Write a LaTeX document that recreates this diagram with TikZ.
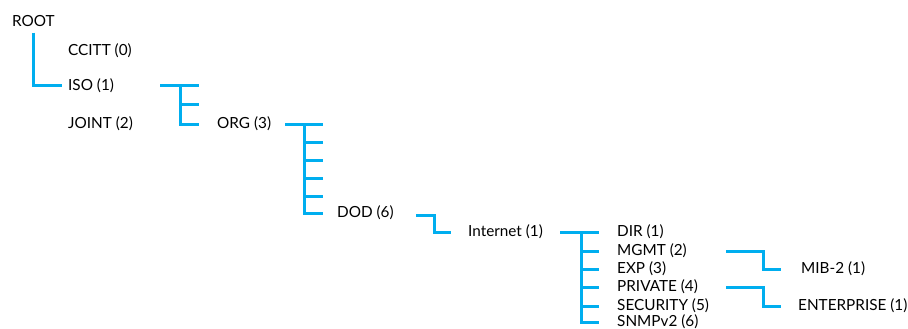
\documentclass[tikz,border=0pt]{standalone}
\usepackage{fontspec}
\setmainfont{Lato}
\definecolor{oidblue}{RGB}{0,174,239}
\tikzset{
  link/.style={draw=oidblue, line width=3pt},
  oid/.style={anchor=west, inner sep=0pt, text height=11pt, text depth=2pt,
    font=\fontsize{15.3}{18}\selectfont}
}

\begin{document}
\begin{tikzpicture}[x=1pt, y=-1pt]
  \useasboundingbox (0,0) rectangle (908,329);

  % labels of the tree
  \node[oid] (root) at (12,22) {ROOT};
  \node[oid] (ccitt) at (68,51) {CCITT (0)};
  \node[oid] (iso) at (68,86) {ISO (1)};
  \node[oid] (joint) at (68,124) {JOINT (2)};
  \node[oid] (org) at (217,124) {ORG (3)};
  \node[oid] (dod) at (337,213) {DOD (6)};
  \node[oid] (inet) at (468,232) {Internet (1)};
  \node[oid] (dir) at (617,232) {DIR (1)};
  \node[oid] (mgmt) at (617,251) {MGMT (2)};
  \node[oid] (exp) at (617,269) {EXP (3)};
  \node[oid] (priv) at (617,287) {PRIVATE (4)};
  \node[oid] (sec) at (617,306) {SECURITY (5)};
  \node[oid] (snmp) at (617,322) {SNMPv2 (6)};
  \node[oid] (mib) at (801,269) {MIB-2 (1)};
  \node[oid] (ent) at (798,306) {ENTERPRISE (1)};

  % root to iso
  \draw[link] ([yshift=-4pt]root.south) |- ([xshift=-6pt]iso.west);

  % iso
  \coordinate (isob) at (180,86);
  \draw[link] ([xshift=-20pt]isob) -- ([xshift=19pt]isob);
  \draw[link] ([yshift=-18pt]isob) -- ++(19,0);
  \draw[link] (isob) |- ([xshift=-18pt]org.west);

  % org
  \coordinate (orgb) at (304,124);
  \draw[link] ([xshift=-19pt]orgb) -- ([xshift=19pt]orgb);
  \foreach \dy in {18,36,54,72}
    \draw[link] ([yshift=-\dy pt]orgb) -- ++(19,0);
  \draw[link] (orgb) |- ([xshift=-14pt]dod.west);

  % dod to internet
  \coordinate (dodout) at (416,215);
  \draw[link] (dodout) -| ([xshift=-34pt]inet.west) -- ([xshift=-17pt]inet.west);

  % internet
  \coordinate (inetb) at (581,232);
  \draw[link] ([xshift=-21pt]inetb) -- ([xshift=-18pt]dir.west);
  \foreach \n in {mgmt,exp,priv,sec}
    \draw[link] (inetb |- \n.west) -- ([xshift=-18pt]\n.west);
  \draw[link] (inetb) |- ([xshift=-18pt]snmp.west);

  % mgmt and private
  \coordinate (mgmtout) at (726,251);
  \coordinate (privout) at (726,287);
  \draw[link] (mgmtout) -| ([xshift=-38pt]mib.west) -- ([xshift=-20pt]mib.west);
  \draw[link] (privout) -| ([xshift=-35pt]ent.west) -- ([xshift=-17pt]ent.west);
\end{tikzpicture}
\end{document}
